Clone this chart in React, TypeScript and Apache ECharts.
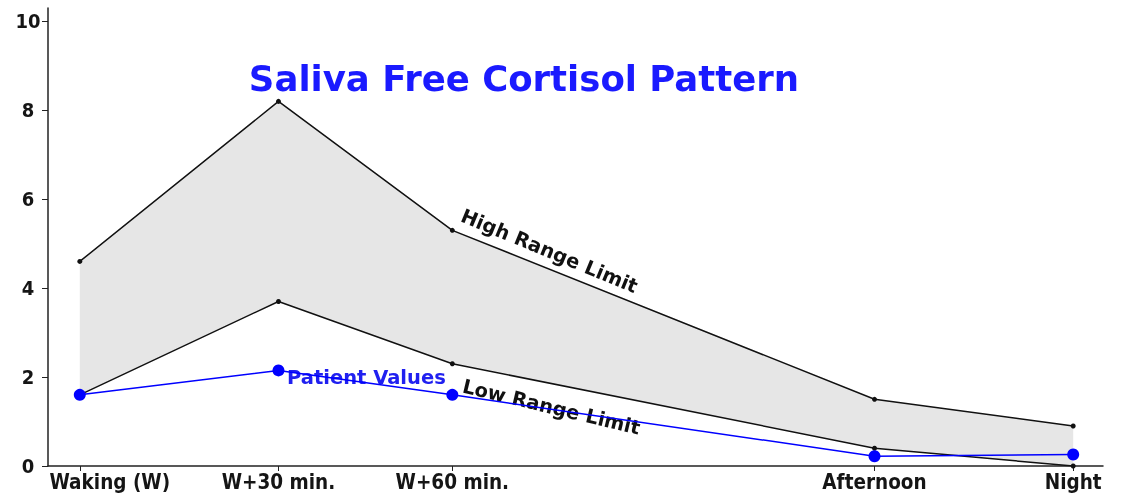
import React, { useEffect, useRef } from "react";
import * as echarts from "echarts";

const categories = ["Waking (W)", "W+30 min.", "W+60 min.", "Afternoon", "Night"];
const xPositions = [0, 2, 3.75, 8, 10];
const highLimit = [4.6, 8.2, 5.3, 1.5, 0.9];
const lowLimit = [1.6, 3.7, 2.3, 0.4, 0.0];
const patientValues = [1.6, 2.15, 1.6, 0.22, 0.26];
const yTicks = [0, 2, 4, 6, 8, 10];

const FONT = "DejaVu Sans";
const AXIS_FONT = "DejaVu Sans Condensed";

export default function App() {
  const ref = useRef<HTMLDivElement>(null);
  useEffect(() => {
    if (!ref.current) return;
    const chart = echarts.init(ref.current, null, { renderer: "svg" });
    const pair = (ys: number[]) => xPositions.map((x, i) => [x, ys[i]]);
    chart.setOption({
      animation: false,
      grid: {
        left: 48,
        right: 21,
        top: 8,
        bottom: 31,
        containLabel: false,
        outerBoundsMode: "none",
      },
      xAxis: {
        type: "value",
        min: -0.32,
        max: 10.3,
        splitLine: { show: false },
        axisLine: { onZero: false, lineStyle: { color: "#222", width: 1.5 } },
        axisTick: { show: true, length: 5, customValues: xPositions, lineStyle: { color: "#222" } },
        axisLabel: {
          customValues: xPositions,
          formatter: (v: number) => {
            const i = xPositions.indexOf(v);
            if (i < 0) return "";
            return i === 0 ? "{first|" + categories[i] + "}" : categories[i];
          },
          rich: {
            first: {
              fontFamily: AXIS_FONT,
              fontWeight: "bold",
              fontSize: 20.5,
              color: "#151515",
              padding: [0, 0, 0, 60],
            },
          },
          fontFamily: AXIS_FONT,
          fontWeight: "bold",
          fontSize: 20.5,
          color: "#151515",
          margin: 5,
        },
      },
      yAxis: {
        type: "value",
        min: 0,
        max: 10.3,
        splitLine: { show: false },
        axisLine: { show: true, onZero: false, lineStyle: { color: "#222", width: 1.5 } },
        axisTick: { show: true, length: 6, customValues: yTicks, lineStyle: { color: "#222" } },
        axisLabel: {
          customValues: yTicks,
          fontFamily: AXIS_FONT,
          fontWeight: "bold",
          fontSize: 20,
          color: "#151515",
          align: "center",
          margin: 20,
        },
      },
      series: [
        {
          type: "custom",
          data: [[0, 0]],
          z: 1,
          silent: true,
          renderItem: (_params: any, api: any) => {
            const top = xPositions.map((x, i) => api.coord([x, highLimit[i]]));
            const bottom = xPositions
              .map((x, i) => api.coord([x, lowLimit[i]]))
              .reverse();
            return {
              type: "polygon",
              shape: { points: top.concat(bottom) },
              style: { fill: "#e6e6e6", stroke: "none" },
            };
          },
        },
        {
          type: "line",
          name: "High Range Limit",
          data: pair(highLimit),
          z: 3,
          symbol: "circle",
          symbolSize: 5,
          itemStyle: { color: "#111" },
          lineStyle: { color: "#111", width: 1.5 },
        },
        {
          type: "line",
          name: "Low Range Limit",
          data: pair(lowLimit),
          z: 3,
          symbol: "circle",
          symbolSize: 5,
          itemStyle: { color: "#111" },
          lineStyle: { color: "#111", width: 1.5 },
        },
        {
          type: "line",
          name: "Patient Values",
          data: pair(patientValues),
          z: 4,
          symbol: "circle",
          symbolSize: 12,
          itemStyle: { color: "#0000ff" },
          lineStyle: { color: "#0000ff", width: 1.5 },
        },
      ],
      graphic: [
        {
          type: "text",
          x: 524,
          y: 78,
          style: {
            text: "Saliva Free Cortisol Pattern",
            fontFamily: FONT,
            fontWeight: "bold",
            fontSize: 35.5,
            fill: "#1a1aff",
            align: "center",
            verticalAlign: "middle",
          },
        },
        {
          type: "text",
          x: 462,
          y: 215,
          rotation: (-22.5 * Math.PI) / 180,
          style: {
            text: "High Range Limit",
            fontFamily: FONT,
            fontWeight: "bold",
            fontSize: 19.5,
            fill: "#111",
            align: "left",
            verticalAlign: "middle",
          },
        },
        {
          type: "text",
          x: 463,
          y: 386,
          rotation: (-13.5 * Math.PI) / 180,
          style: {
            text: "Low Range Limit",
            fontFamily: FONT,
            fontWeight: "bold",
            fontSize: 19.5,
            fill: "#111",
            align: "left",
            verticalAlign: "middle",
          },
        },
        {
          type: "text",
          x: 287,
          y: 377,
          style: {
            text: "Patient Values",
            fontFamily: FONT,
            fontWeight: "bold",
            fontSize: 19.5,
            fill: "#2020f0",
            align: "left",
            verticalAlign: "middle",
          },
        },
      ],
    });
    return () => chart.dispose();
  }, []);
  return (
    <div
      ref={ref}
      style={{ position: "fixed", left: 0, top: 0, width: 1124, height: 497 }}
    />
  );
}
